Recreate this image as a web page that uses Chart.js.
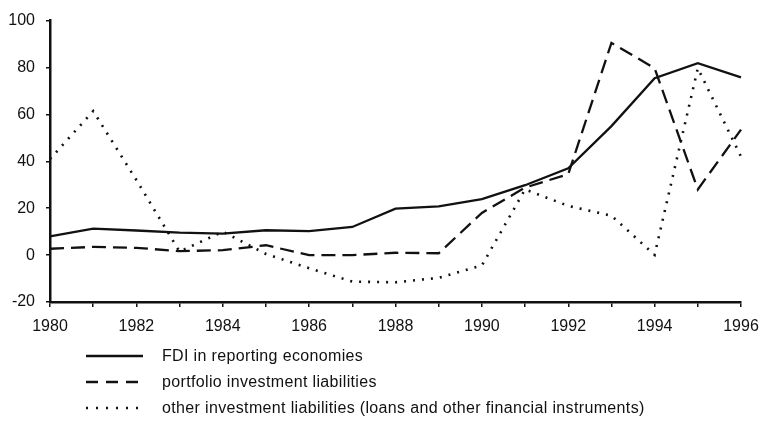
<!DOCTYPE html>
<html>
<head>
<meta charset="utf-8">
<script src="https://cdn.jsdelivr.net/npm/chart.js@4.4.0/dist/chart.umd.min.js"></script>
<style>
  html, body { margin: 0; padding: 0; background: #fff; }
  #wrap { position: relative; width: 769px; height: 427px; }
  #legend { position: absolute; left: 86px; top: 343px; font-family: "Liberation Sans", Arial, sans-serif; font-size: 16px; letter-spacing: 0.35px; color: #111; }
  .row { display: flex; align-items: center; height: 26px; }
  .row svg { margin-right: 19px; }
</style>
</head>
<body>
<div id="wrap">
  <canvas id="chart" width="769" height="427"></canvas>
  <div id="legend"></div>
</div>
<script>
// years on the x axis
const years = [1980,1981,1982,1983,1984,1985,1986,1987,1988,1989,1990,1991,1992,1993,1994,1995,1996];
// FDI in reporting economies
const fdi = [8, 11.3, 10.5, 9.6, 9.2, 10.6, 10.2, 12, 19.8, 20.8, 23.9, 29.8, 37, 55, 75.4, 81.8, 75.8];
// portfolio investment liabilities
const portfolio = [2.7, 3.5, 3.1, 1.7, 2.1, 4.2, 0, 0, 1, 0.8, 18, 28.8, 34.5, 90.5, 79.7, 28, 53.5];
// other investment liabilities
const other = [41, 61.4, 32, 1.5, 10, 0.5, -5.6, -11.3, -11.6, -9.7, -4.4, 28, 21, 16.8, 0.1, 79.7, 42];
const yTicks = [-20, 0, 20, 40, 60, 80, 100];

const seriesNames = [
  'FDI in reporting economies',
  'portfolio investment liabilities',
  'other investment liabilities (loans and other financial instruments)'
];
const dashes = [[], [14, 7], [2, 7]];

const font = { family: '"Liberation Sans", Arial, sans-serif', size: 16 };

const ctx = document.getElementById('chart').getContext('2d');
const chart = new Chart(ctx, {
  type: 'line',
  data: {
    labels: years,
    datasets: [fdi, portfolio, other].map((d, i) => ({
      label: seriesNames[i],
      data: d,
      borderColor: '#111',
      borderWidth: i == 2 ? 2.6 : 2.3,
      borderDash: dashes[i],
      pointRadius: 0,
      tension: 0,
      fill: false
    }))
  },
  options: {
    responsive: false,
    animation: false,
    layout: { padding: { left: 0, right: 28, top: 18, bottom: 0 } },
    plugins: { legend: { display: false }, tooltip: { enabled: false } },
    scales: {
      x: {
        offset: false,
        border: { color: '#111', width: 2.5 },
        grid: { drawOnChartArea: false, drawTicks: true, tickLength: 5, color: '#111', lineWidth: 1.5 },
        ticks: {
          color: '#111', font: font, padding: 10, maxRotation: 0, autoSkip: false,
          callback: function (v, i) { return years[i] % 2 == 0 ? String(years[i]) : ''; }
        },
        afterFit: function (s) { s.height = 125; }
      },
      y: {
        min: yTicks[0], max: yTicks[yTicks.length - 1],
        border: { color: '#111', width: 2.5 },
        grid: { drawOnChartArea: false, drawTicks: true, tickLength: 4, color: '#111', lineWidth: 1.5 },
        afterBuildTicks: function (s) { s.ticks = yTicks.map(v => ({ value: v })); },
        ticks: { color: '#111', font: font, padding: 11 },
        afterFit: function (s) { s.width = 50; }
      }
    }
  }
});

// legend below the plot
const legend = document.getElementById('legend');
seriesNames.forEach((name, i) => {
  const row = document.createElement('div');
  row.className = 'row';
  const dash = i == 0 ? '' : (i == 1 ? '12 8' : '2 8');
  row.innerHTML = '<svg width="57" height="4"><line x1="0" y1="2" x2="57" y2="2" stroke="#111" stroke-width="2.3"' +
    (dash ? ' stroke-dasharray="' + dash + '"' : '') + '/></svg><span>' + name + '</span>';
  legend.appendChild(row);
});
</script>
</body>
</html>
